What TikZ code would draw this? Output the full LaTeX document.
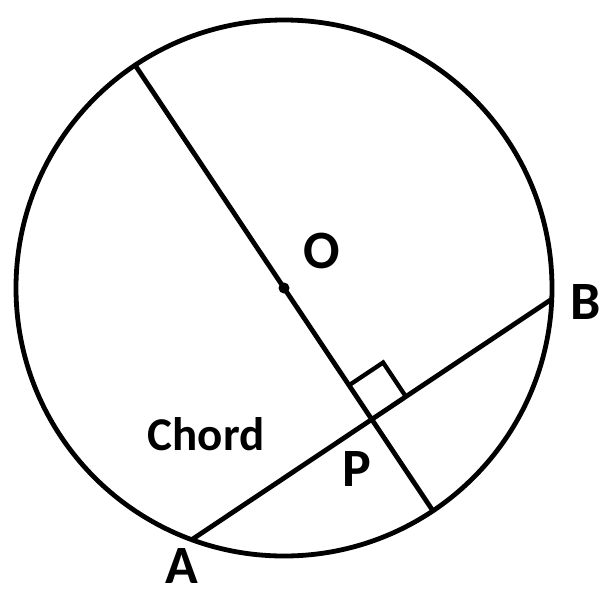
\documentclass[tikz,border=0pt]{standalone}
\usepackage{fontspec}
\setmainfont{Carlito}
\usetikzlibrary{calc}
\begin{document}
\begin{tikzpicture}[x=1pt,y=-1pt,
  geo/.style={line width=4.8pt,black},
  ptlabel/.style={font=\bfseries\fontsize{54}{54}\selectfont,inner sep=0pt},
  chordlabel/.style={font=\bfseries\fontsize{47}{47}\selectfont,inner sep=0pt}]
\useasboundingbox (0,0) rectangle (612,600);
\coordinate (O) at (284,288);
\path (O) ++(-149,-223) coordinate (D1);
\path (O) ++(0.5556*268,0.8315*268) coordinate (D2);
\path (O) ++(0.5556*158,0.8315*158) coordinate (P);
\path (P) ++(-0.8315*216.5,0.5556*216.5) coordinate (A);
\path (P) ++(0.8315*216.5,-0.5556*216.5) coordinate (B);
\path (P) ++(-0.5556*41,-0.8315*41) coordinate (Q1);
\path (P) ++(0.8315*41,-0.5556*41) coordinate (Q2);
\path (Q1) ++(0.8315*41,-0.5556*41) coordinate (Q3);
\draw[geo] (O) circle (268);
\draw[geo] (D1) -- (D2);
\draw[geo] (A) -- (B);
\draw[geo,line width=4.3pt] (Q1) -- (Q3) -- (Q2);
\fill (O) circle (5.5);
\node[ptlabel] (lO) at (322,251) {O};
\node[ptlabel] (lB) at (586,302) {B};
\node[ptlabel] (lA) at (182,566) {A};
\node[ptlabel] (lP) at (357,469) {P};
\node[chordlabel] (lC) at (206,434) {Chord};
\end{tikzpicture}
\end{document}
